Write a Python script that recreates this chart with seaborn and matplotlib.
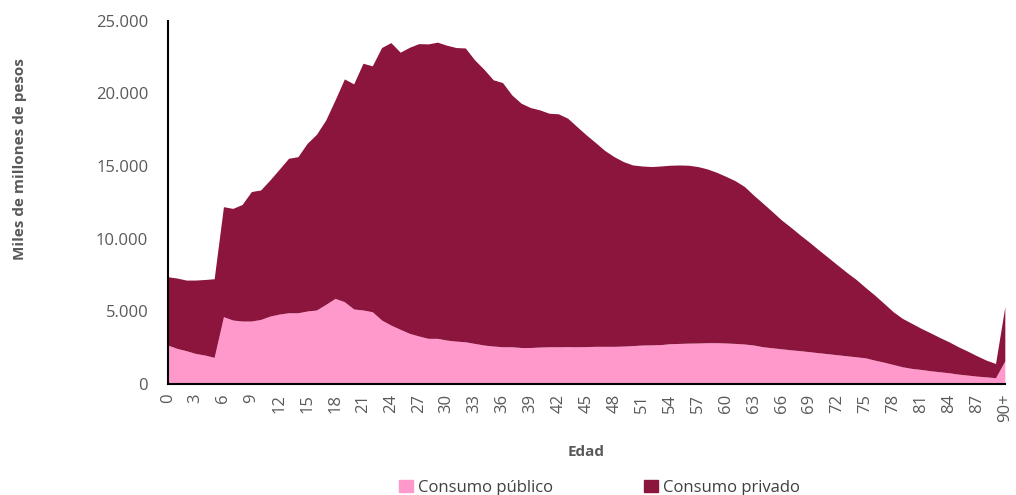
import numpy as np
import matplotlib
matplotlib.use("Agg")
import matplotlib.pyplot as plt
import seaborn as sns
from matplotlib.patches import Patch
from matplotlib.ticker import FuncFormatter

# Edades 0..89 y 90+
edades = list(range(91))
etiquetas_x = [str(a) if a < 90 else "90+" for a in edades[::3]]

# Consumo total (miles de millones de pesos)
total = [7390, 7300, 7160, 7160, 7200, 7250, 12210, 12090, 12360, 13250,
         13360, 14050, 14790, 15540, 15650, 16570, 17190, 18180, 19560, 21000,
         20660, 22080, 21900, 23160, 23500, 22840, 23180, 23430, 23410, 23530,
         23320, 23160, 23130, 22310, 21670, 20940, 20750, 19900, 19330, 19030,
         18870, 18640, 18600, 18300, 17720, 17150, 16620, 16070, 15650, 15310,
         15080, 15010, 14970, 15010, 15060, 15080, 15060, 14970, 14810, 14580,
         14300, 14000, 13600, 13000, 12440, 11870, 11290, 10790, 10260, 9760,
         9230, 8720, 8200, 7690, 7210, 6660, 6130, 5560, 4980, 4520,
         4180, 3840, 3530, 3210, 2910, 2570, 2270, 1950, 1650, 1420,
         5320]

# Consumo publico
publico = [2690, 2460, 2300, 2110, 2000, 1840, 4640, 4410, 4340, 4340,
           4450, 4680, 4820, 4910, 4910, 5030, 5100, 5490, 5900, 5670,
           5170, 5100, 4980, 4410, 4060, 3770, 3490, 3310, 3150, 3150,
           3030, 2960, 2910, 2800, 2690, 2620, 2570, 2570, 2520, 2520,
           2550, 2570, 2570, 2580, 2570, 2580, 2600, 2600, 2600, 2620,
           2650, 2690, 2700, 2720, 2780, 2800, 2820, 2830, 2850, 2850,
           2830, 2800, 2760, 2690, 2570, 2500, 2430, 2360, 2300, 2230,
           2160, 2090, 2020, 1950, 1880, 1810, 1650, 1510, 1350, 1190,
           1080, 1010, 920, 850, 780, 690, 620, 550, 500, 440,
           1600]

privado = [t - p for t, p in zip(total, publico)]

color_publico = "#FF99CC"
color_privado = "#8C153E"

sns.set_theme(style="white")
plt.rcParams["font.family"] = ["Open Sans", "DejaVu Sans"]

fig = plt.figure(figsize=(10.16, 4.95), dpi=100)
ax = fig.add_axes([0.165, 0.224, 0.824, 0.734])

ax.stackplot(edades, publico, privado, colors=[color_publico, color_privado],
             linewidth=0)

ax.set_xlim(0, 90)
ax.set_ylim(0, 25000)
ax.set_xticks(edades[::3])
ax.set_xticklabels(etiquetas_x, rotation=90)
ax.set_yticks(range(0, 25001, 5000))
ax.yaxis.set_major_formatter(FuncFormatter(lambda v, p: f"{int(v):,}".replace(",", ".")))
ax.tick_params(axis="both", length=0, labelsize=12, labelcolor="#595959")
ax.tick_params(axis="y", pad=14)
ax.tick_params(axis="x", pad=7)

sns.despine(ax=ax)
for s in ["left", "bottom"]:
    ax.spines[s].set_color("black")
    ax.spines[s].set_linewidth(1.5)

ax.set_xlabel("Edad", fontsize=11, fontweight="bold", color="#595959")
ax.xaxis.set_label_coords(0.5, -0.168)
ax.set_ylabel("Miles de millones de pesos", fontsize=11, fontweight="bold", color="#595959")
ax.yaxis.set_label_coords(-0.168, 0.62)

handles = [Patch(color=color_publico, label="Consumo público"),
           Patch(color=color_privado, label="Consumo privado")]
fig.legend(handles=handles, loc="lower center", bbox_to_anchor=(0.59, -0.032), ncol=2,
           frameon=False, fontsize=12, handlelength=0.8, handleheight=0.8,
           handletextpad=0.3, columnspacing=5.5, labelcolor="#404040")

fig.savefig("out.png", dpi=100)
